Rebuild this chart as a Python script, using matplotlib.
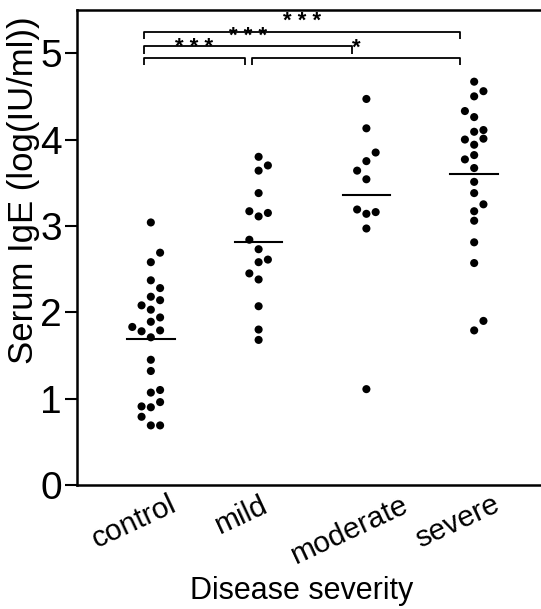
import matplotlib
matplotlib.use("Agg")
import matplotlib.pyplot as plt
import matplotlib.transforms as mtransforms
import numpy as np

plt.rcParams['font.family'] = ['Liberation Sans', 'DejaVu Sans']

# ---------------- data ----------------
categories = ["control", "mild", "moderate", "severe"]

control = [3.04, 2.69, 2.58, 2.37, 2.28, 2.18, 2.14, 2.08, 2.03, 1.94, 1.89, 1.83,
           1.78, 1.79, 1.71, 1.45, 1.32, 1.10, 1.07, 0.96, 0.91, 0.90, 0.79, 0.69, 0.69]
mild = [3.80, 3.70, 3.64, 3.38, 3.17, 3.15, 3.11, 2.84, 2.73, 2.61, 2.58, 2.45,
        2.38, 2.07, 1.80, 1.68]
moderate = [4.47, 4.13, 3.85, 3.75, 3.64, 3.54, 3.19, 3.14, 3.16, 2.97, 1.11]
severe = [4.67, 4.56, 4.50, 4.33, 4.26, 4.09, 4.11, 4.01, 4.00, 3.94, 3.82, 3.77,
          3.67, 3.51, 3.38, 3.25, 3.17, 3.06, 2.81, 2.57, 1.90, 1.79]

# significance comparisons (group index pairs) and labels
comparisons = [(0, 3), (0, 2), (0, 1), (1, 3)]
sig_labels = ["* * *", "* * *", "* * *", "*"]

yticks = [0, 1, 2, 3, 4, 5]

# ---------------- layout (swarm offsets, in dot steps) ----------------
swarm = [
    [0, 1, 0, 0, 1, 0, 1, -1, 0, 1, 0, -2, -1, 1, 0, 0, 0, 1, 0, 1, -1, 0, -1, 0, 1],
    [0, 1, 0, 0, -1, 1, 0, -1, 0, 1, 0, -1, 0, 0, 0, 0],
    [0, 0, 1, 0, -1, 0, -1, 0, 1, 0, 0],
    [0, 1, 0, -1, 0, 0, 1, 1, -1, 0, 0, -1, 0, 0, 0, 1, 0, 0, 0, 0, 1, 0],
]
bracket_y = [5.25, 5.08, 4.95, 4.95]
step = 0.086

groups = [control, mild, moderate, severe]

fig = plt.figure(figsize=(5.41, 6.09), dpi=100)
ax = fig.add_axes([77/541, 1 - 485/609, 1 - 77/541, (485 - 10)/609])

for i, (vals, offs) in enumerate(zip(groups, swarm)):
    xpos = i + 1 + np.array(offs) * step
    ax.scatter(xpos, vals, s=34, color='black', edgecolors='none', zorder=3)
    m = np.mean(vals)
    ax.plot([i + 1 - 0.22, i + 1 + 0.22], [m, m], color='black', lw=1.5, zorder=2)

tick_h = 0.09
for (a, b), lab, yb in zip(comparisons, sig_labels, bracket_y):
    x0 = a + 1 - 0.06
    x1 = b + 1 - 0.13
    ax.plot([x0, x0, x1, x1], [yb - tick_h, yb, yb, yb - tick_h],
            color='black', lw=1.3, solid_capstyle='butt')
    ax.text((x0 + x1) / 2, yb - 0.01, lab, ha='center', va='bottom',
            fontsize=16, fontweight='bold')

ax.set_xlim(0.315, 4.62)
ax.set_ylim(0, 5.5)
ax.tick_params(axis='x', length=0, pad=4)
ax.tick_params(axis='y', length=9, width=1.5, pad=2, direction='out')
ax.set_yticks(yticks)
ax.set_yticklabels([str(t) for t in yticks], fontsize=28)
ax.set_xticks(range(1, 5))
ax.set_xticklabels(categories, fontsize=21.5, rotation=25, ha='center', va='top')
offset = mtransforms.ScaledTranslation(-17/100, 0, fig.dpi_scale_trans)
for lbl in ax.get_xticklabels():
    lbl.set_transform(lbl.get_transform() + offset)

for s in ['left', 'bottom', 'top']:
    ax.spines[s].set_linewidth(1.8)
ax.spines['right'].set_visible(False)

ax.set_ylabel("Serum IgE (log(IU/ml))", fontsize=25)
ax.yaxis.set_label_coords(-0.08, 0.621)
ax.set_xlabel("Disease severity", fontsize=22, va='top')
ax.xaxis.set_label_coords(0.485, -0.192)

fig.savefig("out.png", dpi=100)
